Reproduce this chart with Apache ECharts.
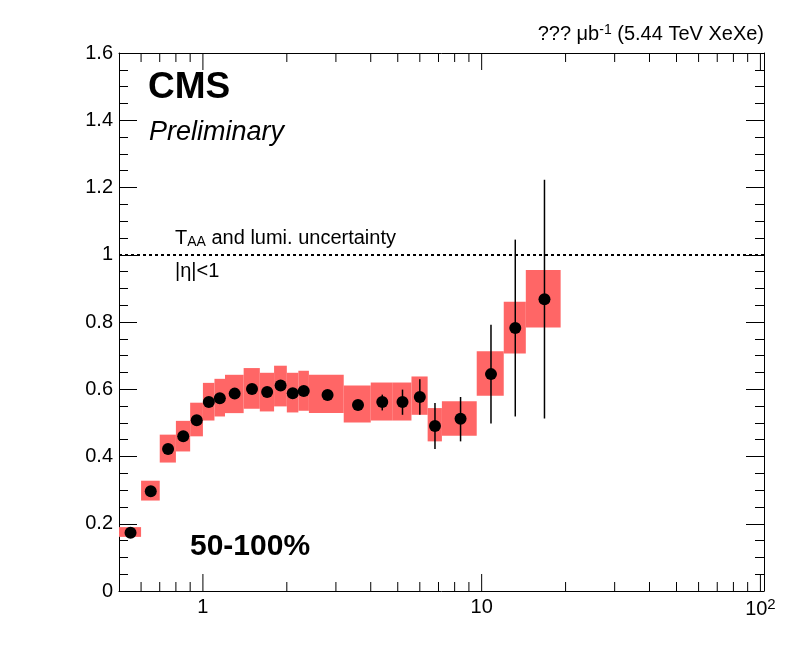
<!DOCTYPE html>
<html>
<head>
<meta charset="utf-8">
<script src="https://cdn.jsdelivr.net/npm/echarts@6/dist/echarts.min.js"></script>
<style>
  html, body { margin: 0; padding: 0; background: #fff; }
  #main { width: 796px; height: 672px; }
</style>
</head>
<body>
<div id="main"></div>
<script>
// pT bins
var binLo = [0.5, 0.6, 0.7, 0.8, 0.9, 1.0, 1.1, 1.2, 1.4, 1.6, 1.8, 2.0, 2.2, 2.4, 3.2, 4.0, 4.8, 5.6, 6.4, 7.2, 9.6, 12.0, 14.4];
var binHi = [0.6, 0.7, 0.8, 0.9, 1.0, 1.1, 1.2, 1.4, 1.6, 1.8, 2.0, 2.2, 2.4, 3.2, 4.0, 4.8, 5.6, 6.4, 7.2, 9.6, 12.0, 14.4, 19.2];

// R_AA central values
var raa = [0.173, 0.297, 0.422, 0.460, 0.508, 0.562, 0.573, 0.587, 0.601, 0.592, 0.611, 0.588, 0.595, 0.583, 0.553, 0.562, 0.562, 0.577, 0.491, 0.512, 0.645, 0.782, 0.868];

// statistical error bars (low / high ends)
var statLow  = [0.169, 0.292, 0.416, 0.453, 0.501, 0.554, 0.565, 0.579, 0.592, 0.583, 0.601, 0.578, 0.584, 0.572, 0.541, 0.537, 0.524, 0.524, 0.422, 0.445, 0.498, 0.519, 0.513];
var statHigh = [0.177, 0.302, 0.428, 0.467, 0.515, 0.570, 0.581, 0.595, 0.610, 0.601, 0.621, 0.598, 0.606, 0.594, 0.565, 0.584, 0.599, 0.630, 0.559, 0.577, 0.792, 1.045, 1.223];

// systematic boxes (low / high ends)
var sysLow  = [0.161, 0.269, 0.382, 0.415, 0.460, 0.507, 0.519, 0.529, 0.542, 0.534, 0.549, 0.531, 0.536, 0.529, 0.501, 0.507, 0.507, 0.524, 0.445, 0.462, 0.581, 0.706, 0.784];
var sysHigh = [0.190, 0.328, 0.465, 0.506, 0.560, 0.619, 0.631, 0.643, 0.663, 0.649, 0.670, 0.649, 0.655, 0.643, 0.611, 0.620, 0.620, 0.638, 0.544, 0.564, 0.713, 0.860, 0.955];

// axis ticks
var xMajorTicks = [1, 10, 100];
var xMinorTicks = [0.6, 0.7, 0.8, 0.9, 2, 3, 4, 5, 6, 7, 8, 9, 20, 30, 40, 50, 60, 70, 80, 90];
var xMin = 0.5, xMax = 103;
var yMin = 0, yMax = 1.6;

var FONT = '"Liberation Sans", Arial, Helvetica, sans-serif';

var boxData = binLo.map(function (lo, i) { return [lo, binHi[i], sysLow[i], sysHigh[i]]; });
var pointData = binLo.map(function (lo, i) { return [(lo + binHi[i]) / 2, raa[i]]; });
var errData = pointData.map(function (p, i) { return [p[0], statLow[i], statHigh[i]]; });
var xTickData = xMajorTicks.map(function (v) { return [v, 1]; })
    .concat(xMinorTicks.map(function (v) { return [v, 0]; }));

var chart = echarts.init(document.getElementById('main'));

var yAxisCommon = {
    type: 'value',
    min: yMin,
    max: yMax,
    interval: 0.2,
    splitLine: { show: false },
    axisLine: { show: true, onZero: false, lineStyle: { color: '#000', width: 1 } },
    axisTick: { show: true, inside: true, length: 18, lineStyle: { color: '#000' } },
    minorTick: { show: true, splitNumber: 4, length: 9, lineStyle: { color: '#000' } }
};

var option = {
    animation: false,
    backgroundColor: '#fff',
    grid: { left: 119, right: 32, top: 53, bottom: 81 },
    xAxis: [
        {
            type: 'log',
            logBase: 10,
            min: xMin,
            max: xMax,
            position: 'bottom',
            splitLine: { show: false },
            axisLine: { show: true, onZero: false, lineStyle: { color: '#000', width: 1 } },
            axisTick: { show: false },
            axisLabel: {
                margin: 6,
                color: '#000',
                fontFamily: FONT,
                fontSize: 20,
                showMinLabel: false,
                showMaxLabel: true,
                formatter: function (v) {
                    if (Math.abs(v - 1) < 1e-6) return '1';
                    if (Math.abs(v - 10) < 1e-5) return '10';
                    if (Math.abs(v - 100) < 1e-4) return '10{sup|2}';
                    return '';
                },
                rich: {
                    sup: { fontSize: 15, fontFamily: FONT, color: '#000', verticalAlign: 'top', padding: [0, 0, 9, 0] }
                }
            }
        },
        {
            type: 'log',
            logBase: 10,
            min: xMin,
            max: xMax,
            position: 'top',
            splitLine: { show: false },
            axisLine: { show: true, onZero: false, lineStyle: { color: '#000', width: 1 } },
            axisTick: { show: false },
            axisLabel: { show: false }
        }
    ],
    yAxis: [
        Object.assign({}, yAxisCommon, {
            position: 'left',
            axisLabel: {
                margin: 6,
                color: '#000',
                fontFamily: FONT,
                fontSize: 20,
                formatter: function (v) {
                    if (Math.abs(v) < 1e-9) return '0';
                    if (Math.abs(v - 1) < 1e-9) return '1';
                    return v.toFixed(1);
                }
            }
        }),
        Object.assign({}, yAxisCommon, {
            position: 'right',
            axisLabel: { show: false }
        })
    ],
    series: [
        {
            // systematic uncertainty boxes
            type: 'custom',
            xAxisIndex: 0,
            yAxisIndex: 0,
            data: boxData,
            encode: { x: [0, 1], y: [2, 3] },
            z: 1,
            renderItem: function (params, api) {
                var p1 = api.coord([api.value(0), api.value(3)]);
                var p2 = api.coord([api.value(1), api.value(2)]);
                return {
                    type: 'rect',
                    shape: { x: p1[0], y: p1[1], width: p2[0] - p1[0], height: p2[1] - p1[1] },
                    style: { fill: '#ff6666' }
                };
            }
        },
        {
            // statistical error bars
            type: 'custom',
            xAxisIndex: 0,
            yAxisIndex: 0,
            data: errData,
            encode: { x: 0, y: [1, 2] },
            z: 3,
            renderItem: function (params, api) {
                var lo = api.coord([api.value(0), api.value(1)]);
                var hi = api.coord([api.value(0), api.value(2)]);
                return {
                    type: 'line',
                    shape: { x1: lo[0], y1: lo[1], x2: hi[0], y2: hi[1] },
                    style: { stroke: '#000', lineWidth: 1.5 }
                };
            }
        },
        {
            type: 'scatter',
            xAxisIndex: 0,
            yAxisIndex: 0,
            data: pointData,
            symbol: 'circle',
            symbolSize: 12,
            itemStyle: { color: '#000', opacity: 1 },
            z: 4,
            markLine: {
                silent: true,
                symbol: ['none', 'none'],
                label: { show: false },
                lineStyle: { color: '#000', type: [3, 3], width: 2, opacity: 1 },
                data: [{ yAxis: 1 }]
            }
        },
        {
            // x axis ticks (log spaced), bottom and top
            type: 'custom',
            xAxisIndex: 0,
            yAxisIndex: 0,
            data: xTickData,
            encode: { x: 0, y: 1 },
            z: 5,
            clip: false,
            silent: true,
            renderItem: function (params, api) {
                var v = api.value(0);
                var len = api.value(1) ? 17 : 9;
                var b = api.coord([v, yMin]);
                var t = api.coord([v, yMax]);
                return {
                    type: 'group',
                    children: [
                        { type: 'line', shape: { x1: b[0], y1: b[1], x2: b[0], y2: b[1] - len }, style: { stroke: '#000', lineWidth: 1 } },
                        { type: 'line', shape: { x1: t[0], y1: t[1], x2: t[0], y2: t[1] + len }, style: { stroke: '#000', lineWidth: 1 } }
                    ]
                };
            }
        }
    ],
    graphic: [
        {
            type: 'text', x: 764, y: 34,
            style: {
                text: '??? μb{sup|-1} (5.44 TeV XeXe)',
                font: '20px ' + FONT, fill: '#000',
                textAlign: 'right', textVerticalAlign: 'middle',
                rich: { sup: { fontSize: 14, fontFamily: FONT, fill: '#000', verticalAlign: 'top', padding: [0, 0, 8, 0] } }
            }
        },
        {
            type: 'text', x: 148, y: 88,
            style: { text: 'CMS', font: 'bold 37px ' + FONT, fill: '#000', textAlign: 'left', textVerticalAlign: 'middle' }
        },
        {
            type: 'text', x: 149, y: 132,
            style: { text: 'Preliminary', font: 'italic 27px ' + FONT, fill: '#000', textAlign: 'left', textVerticalAlign: 'middle' }
        },
        {
            type: 'text', x: 175, y: 238,
            style: {
                text: 'T{sub|AA} and lumi. uncertainty',
                font: '20px ' + FONT, fill: '#000',
                textAlign: 'left', textVerticalAlign: 'middle',
                rich: { sub: { fontSize: 14, fontFamily: FONT, fill: '#000', verticalAlign: 'bottom', padding: [8, 0, 0, 0] } }
            }
        },
        {
            type: 'text', x: 175, y: 271,
            style: { text: '|η|<1', font: '20px ' + FONT, fill: '#000', textAlign: 'left', textVerticalAlign: 'middle' }
        },
        {
            type: 'text', x: 190, y: 547,
            style: { text: '50-100%', font: 'bold 30px ' + FONT, fill: '#000', textAlign: 'left', textVerticalAlign: 'middle' }
        }
    ]
};

chart.setOption(option);
</script>
</body>
</html>
